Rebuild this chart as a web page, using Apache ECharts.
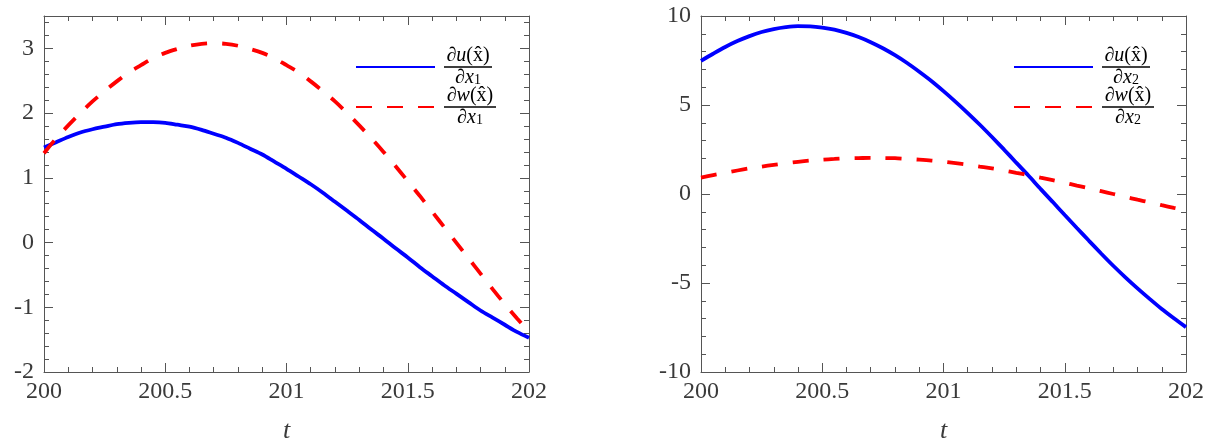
<!DOCTYPE html>
<html>
<head>
<meta charset="utf-8">
<script src="https://cdn.jsdelivr.net/npm/echarts@6/dist/echarts.min.js"></script>
<style>
html,body{margin:0;padding:0;background:#fff;}
#chart{width:1211px;height:443px;}
</style>
</head>
<body>
<div id="chart"></div>
<script>
// time samples (t)
const t = [200.00, 200.05, 200.10, 200.15, 200.20, 200.25, 200.30, 200.35, 200.40, 200.45,
           200.50, 200.55, 200.60, 200.65, 200.70, 200.75, 200.80, 200.85, 200.90, 200.95,
           201.00, 201.05, 201.10, 201.15, 201.20, 201.25, 201.30, 201.35, 201.40, 201.45,
           201.50, 201.55, 201.60, 201.65, 201.70, 201.75, 201.80, 201.85, 201.90, 201.95, 202.00];
// left panel: du/dx1 and dw/dx1
const uX1 = [1.47, 1.55, 1.63, 1.70, 1.75, 1.79, 1.83, 1.85, 1.86, 1.86,
             1.85, 1.82, 1.79, 1.74, 1.68, 1.62, 1.54, 1.45, 1.36, 1.25,
             1.14, 1.02, 0.90, 0.77, 0.63, 0.49, 0.35, 0.20, 0.06, -0.09,
             -0.23, -0.38, -0.52, -0.66, -0.79, -0.92, -1.05, -1.16, -1.27, -1.38, -1.47];
const wX1 = [1.38, 1.61, 1.81, 2.00, 2.18, 2.34, 2.49, 2.63, 2.74, 2.85,
             2.93, 2.99, 3.04, 3.07, 3.08, 3.07, 3.04, 2.99, 2.93, 2.85,
             2.74, 2.63, 2.49, 2.34, 2.18, 2.00, 1.81, 1.61, 1.40, 1.18,
             0.95, 0.72, 0.48, 0.24, 0.00, -0.24, -0.48, -0.72, -0.95, -1.17, -1.38];
// right panel: du/dx2 and dw/dx2
const uX2 = [7.48, 7.88, 8.26, 8.59, 8.87, 9.10, 9.26, 9.37, 9.43, 9.42,
             9.35, 9.23, 9.05, 8.82, 8.53, 8.19, 7.80, 7.36, 6.87, 6.35,
             5.78, 5.18, 4.55, 3.89, 3.20, 2.49, 1.76, 1.04, 0.29, -0.44,
             -1.18, -1.91, -2.63, -3.34, -4.03, -4.68, -5.30, -5.89, -6.46, -6.98, -7.48];
const wX2 = [0.92, 1.06, 1.19, 1.32, 1.44, 1.54, 1.64, 1.73, 1.81, 1.88,
             1.93, 1.97, 2.01, 2.02, 2.03, 2.02, 2.01, 1.97, 1.93, 1.88,
             1.81, 1.73, 1.64, 1.54, 1.44, 1.32, 1.19, 1.06, 0.92, 0.78,
             0.63, 0.47, 0.32, 0.16, 0.00, -0.16, -0.32, -0.47, -0.63, -0.78, -0.92];
// tick labels
const xTicks = [200, 200.5, 201, 201.5, 202];
const yTicksLeft = [-2, -1, 0, 1, 2, 3];
const yTicksRight = [-10, -5, 0, 5, 10];
// legend labels
const legendNames = ['u1', 'w1', 'u2', 'w2'];
const legendNum = {u1: 'u', w1: 'w', u2: 'u', w2: 'w'};
const legendSub = {u1: '1', w1: '1', u2: '2', w2: '2'};

const FONT = '"Liberation Serif", "DejaVu Serif", serif';
const AX = '#555555';
const LBL = '#3a3a3a';

function pts(ys) { return t.map((x, i) => [x, ys[i]]); }

function xAx(gridIndex, pos, showLabel) {
  return {
    type: 'value', gridIndex: gridIndex, position: pos,
    min: 200, max: 202, interval: 0.5,
    axisLine: {show: true, onZero: false, lineStyle: {color: AX, width: 1}},
    axisTick: {show: true, inside: true, length: 9, lineStyle: {color: AX}},
    minorTick: {show: true, splitNumber: 5, length: 5, lineStyle: {color: AX}},
    splitLine: {show: false},
    axisLabel: {show: showLabel, color: LBL, fontFamily: FONT, fontSize: 24, margin: 8,
      formatter: v => xTicks.indexOf(v) >= 0 ? String(v) : ''},
    name: showLabel ? 't' : '', nameLocation: 'middle', nameGap: 46,
    nameTextStyle: {color: LBL, fontFamily: FONT, fontSize: 26, fontStyle: 'italic'}
  };
}
function yAx(gridIndex, pos, showLabel, min, max, interval, ticks) {
  return {
    type: 'value', gridIndex: gridIndex, position: pos,
    min: min, max: max, interval: interval,
    axisLine: {show: true, onZero: false, lineStyle: {color: AX, width: 1}},
    axisTick: {show: true, inside: true, length: 9, lineStyle: {color: AX}},
    minorTick: {show: true, splitNumber: 5, length: 5, lineStyle: {color: AX}},
    splitLine: {show: false},
    axisLabel: {show: showLabel, color: LBL, fontFamily: FONT, fontSize: 24, margin: 10,
      formatter: v => ticks.indexOf(v) >= 0 ? String(v) : ''}
  };
}

function lineSeries(name, xi, yi, ys, color, dashed) {
  return {
    name: name, type: 'line', xAxisIndex: xi, yAxisIndex: yi,
    data: pts(ys), smooth: 0.3, symbol: 'none', showSymbol: false,
    lineStyle: {color: color, width: 3.8, type: dashed ? [16, 15] : 'solid'},
    itemStyle: {color: color},
    emphasis: {disabled: true}
  };
}

const rich = {
  r: {fontFamily: FONT, fontSize: 20, color: '#000', lineHeight: 19, align: 'center'},
  i: {fontFamily: FONT, fontSize: 20, color: '#000', lineHeight: 19, fontStyle: 'italic', align: 'center'},
  s: {fontFamily: FONT, fontSize: 14, color: '#000', lineHeight: 12, verticalAlign: 'bottom', align: 'center'},
  bu: {fontSize: 1, width: 48, height: 1.3, backgroundColor: '#000', lineHeight: 3, align: 'center'},
  bw: {fontSize: 1, width: 52, height: 1.3, backgroundColor: '#000', lineHeight: 3, align: 'center'}
};
function legendFmt(name) {
  const v = legendNum[name];
  const bar = v === 'u' ? 'bu' : 'bw';
  return '{r|∂}{i|' + v + '}{r|(x̂)}\n{' + bar + '| }\n{r|∂}{i|x}{s|' + legendSub[name] + '}';
}
function legend(left, names) {
  return {
    orient: 'vertical', left: left, top: 46, itemGap: -2, padding: 0,
    itemWidth: 79, itemHeight: 14, selectedMode: false,
    itemStyle: {color: 'rgba(0,0,0,0)', borderColor: 'rgba(0,0,0,0)', borderWidth: 0, opacity: 0},
    data: names,
    formatter: legendFmt,
    textStyle: {rich: rich, padding: [0, 0, 0, 4]}
  };
}

const chart = echarts.init(document.getElementById('chart'), null, {renderer: 'canvas'});
chart.setOption({
  animation: false,
  backgroundColor: '#ffffff',
  grid: [
    {left: 44, top: 16, width: 485, height: 356, outerBoundsMode: 'none', containLabel: false},
    {left: 701, top: 16, width: 485, height: 356, outerBoundsMode: 'none', containLabel: false}
  ],
  xAxis: [xAx(0, 'bottom', true), xAx(0, 'top', false), xAx(1, 'bottom', true), xAx(1, 'top', false)],
  yAxis: [
    yAx(0, 'left', true, -2, 3.5, 1, yTicksLeft),
    yAx(0, 'right', false, -2, 3.5, 1, yTicksLeft),
    yAx(1, 'left', true, -10, 10, 5, yTicksRight),
    yAx(1, 'right', false, -10, 10, 5, yTicksRight)
  ],
  legend: [legend(355, legendNames.slice(0, 2)), legend(1013, legendNames.slice(2, 4))],
  series: [
    lineSeries('u1', 0, 0, uX1, '#0000ff', false),
    lineSeries('w1', 0, 0, wX1, '#ff0000', true),
    lineSeries('u2', 2, 2, uX2, '#0000ff', false),
    lineSeries('w2', 2, 2, wX2, '#ff0000', true)
  ]
});
</script>
</body>
</html>
